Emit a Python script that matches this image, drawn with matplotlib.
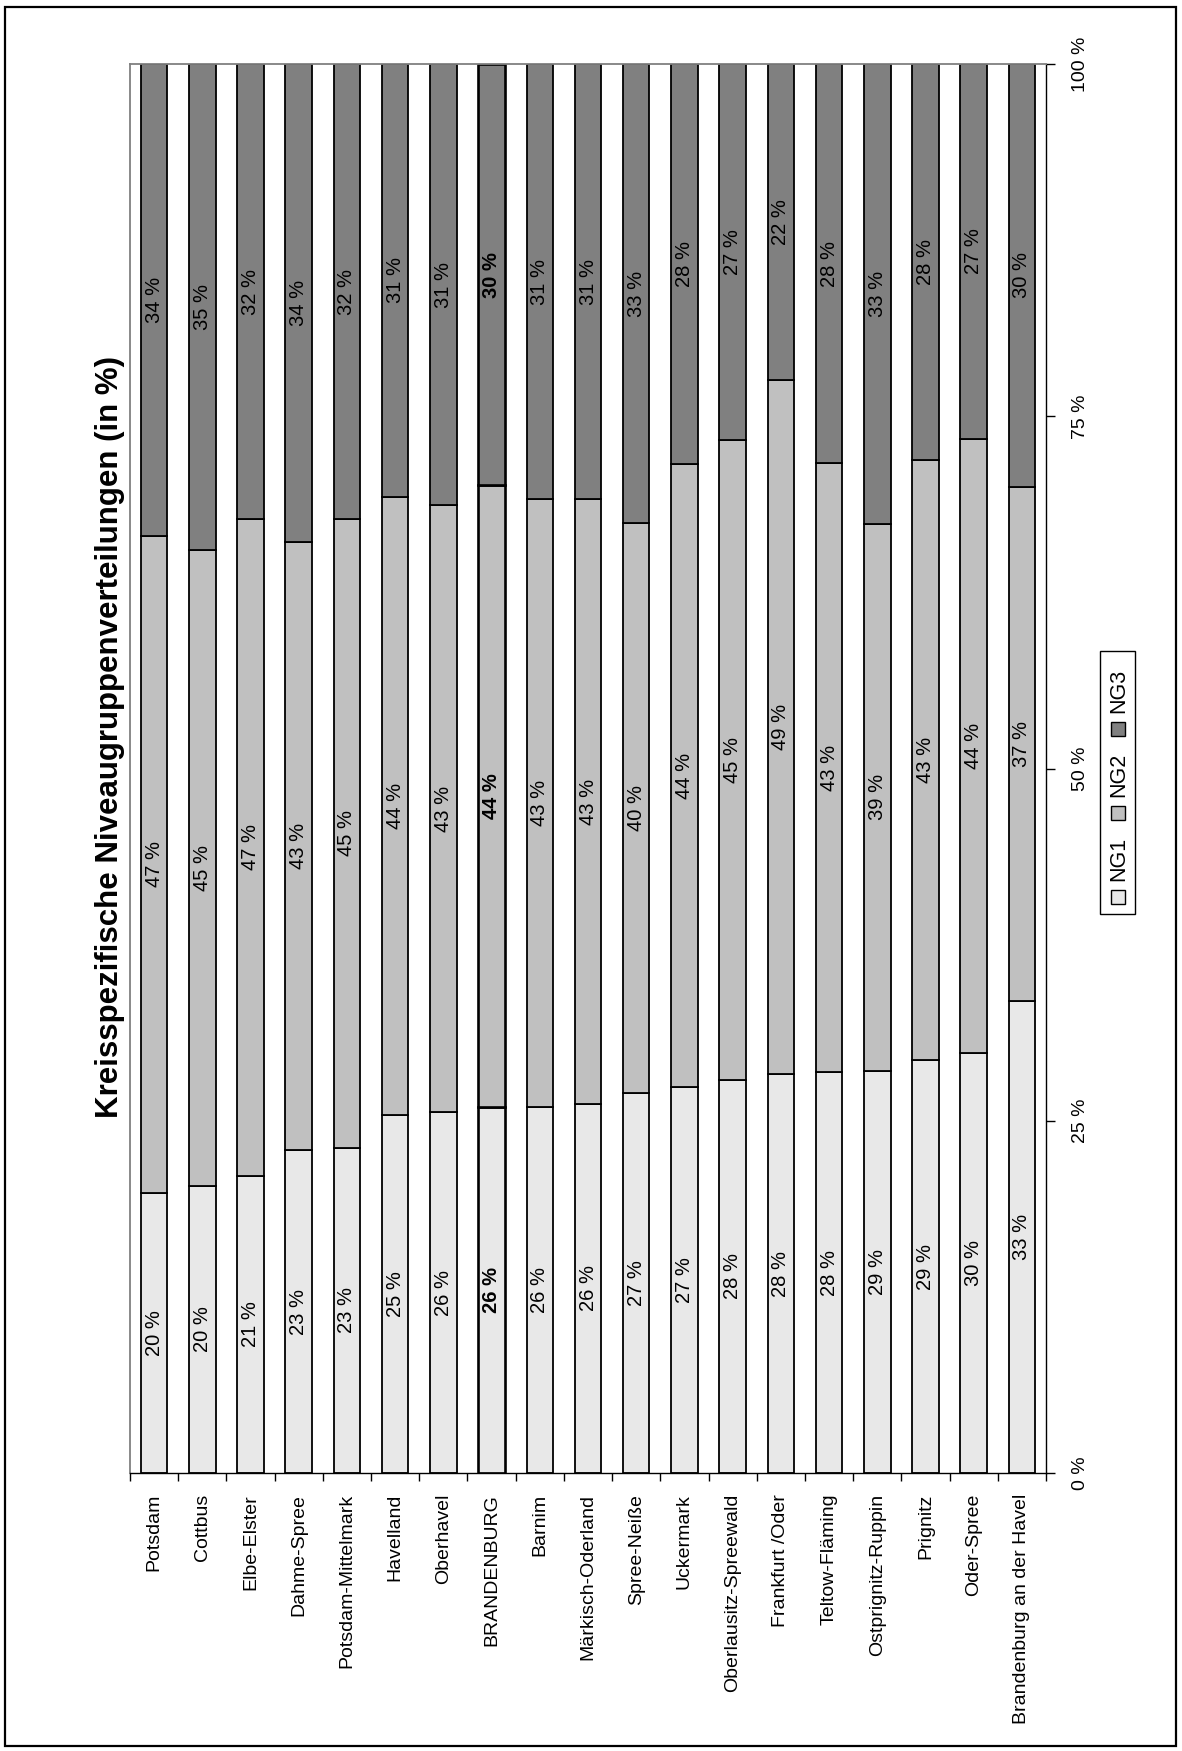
import matplotlib
matplotlib.use('Agg')
import matplotlib.pyplot as plt
from matplotlib.patches import Rectangle
import numpy as np

# ---------------- data ----------------
categories = ['Potsdam', 'Cottbus', 'Elbe-Elster', 'Dahme-Spree', 'Potsdam-Mittelmark',
              'Havelland', 'Oberhavel', 'BRANDENBURG', 'Barnim', 'Märkisch-Oderland',
              'Spree-Neiße', 'Uckermark', 'Oberlausitz-Spreewald', 'Frankfurt /Oder',
              'Teltow-Fläming', 'Ostprignitz-Ruppin', 'Prignitz', 'Oder-Spree',
              'Brandenburg an der Havel']
ng1 = [19.9, 20.4, 21.1, 22.9, 23.1, 25.4, 25.6, 26.0, 26.0, 26.2,
       27.0, 27.4, 27.9, 28.3, 28.45, 28.55, 29.3, 29.8, 33.5]
ng2 = [46.6, 45.1, 46.6, 43.2, 44.6, 43.9, 43.1, 44.1, 43.1, 42.9,
       40.4, 44.2, 45.4, 49.3, 43.2, 38.8, 42.6, 43.6, 36.5]
ng3 = [33.5, 34.5, 32.3, 33.9, 32.3, 30.7, 31.3, 29.9, 30.9, 30.9,
       32.6, 28.4, 26.7, 22.4, 28.35, 32.65, 28.1, 26.6, 30.0]
ng1_lbl = [20, 20, 21, 23, 23, 25, 26, 26, 26, 26, 27, 27, 28, 28, 28, 29, 29, 30, 33]
ng2_lbl = [47, 45, 47, 43, 45, 44, 43, 44, 43, 43, 40, 44, 45, 49, 43, 39, 43, 44, 37]
ng3_lbl = [34, 35, 32, 34, 32, 31, 31, 30, 31, 31, 33, 28, 27, 22, 28, 33, 28, 27, 30]
series_names = ['NG1', 'NG2', 'NG3']
yticks = [0, 25, 50, 75, 100]
ytick_labels = ['0 %', '25 %', '50 %', '75 %', '100 %']
title = 'Kreisspezifische Niveaugruppenverteilungen (in %)'
highlight = 'BRANDENBURG'

# ---------------- style ----------------
colors = ['#E8E8E8', '#C0C0C0', '#808080']
plt.rcParams['font.family'] = ['Liberation Sans', 'DejaVu Sans']

W, H = 1182, 1751
fig = plt.figure(figsize=(W / 100, H / 100), dpi=100)


def fx(px):
    return px / W


def fy(py):
    return 1 - py / H


L, R, T, B = 130, 1046, 64, 1473
ax = fig.add_axes([fx(L), fy(B), (R - L) / W, (B - T) / H])

vals = np.array([ng1, ng2, ng3], dtype=float)
shares = vals / vals.sum(axis=0) * 100
labels = [ng1_lbl, ng2_lbl, ng3_lbl]
x = np.arange(len(categories))
bottom = np.zeros(len(categories))
lws = [1.9 if c == highlight else 1.3 for c in categories]
for i, (name, col) in enumerate(zip(series_names, colors)):
    ax.bar(x, shares[i], 0.55, bottom=bottom, color=col,
           edgecolor='black', linewidth=lws, label=name, zorder=2)
    for j in range(len(categories)):
        ax.text(x[j], bottom[j] + shares[i][j] / 2, f'{labels[i][j]} %',
                rotation=90, ha='center', va='center', fontsize=14.5,
                fontweight='bold' if categories[j] == highlight else 'normal',
                zorder=3)
    bottom += shares[i]

ax.set_xlim(-0.5, len(categories) - 0.5)
ax.set_ylim(0, 100)

# value axis on the right
ax.yaxis.tick_right()
ax.set_yticks(yticks)
ax.set_yticklabels(ytick_labels, rotation=90, va='center')
ax.tick_params(axis='y', direction='out', length=6.5, width=1, pad=12, labelsize=14)

# category axis at bottom
ax.set_xticks(x)
ax.set_xticklabels(categories, rotation=90, fontsize=14)
ax.tick_params(axis='x', which='major', length=0, pad=15)
ax.set_xticks(np.arange(-0.5, len(categories) + 0.5, 1), minor=True)
ax.tick_params(axis='x', which='minor', direction='out', length=5.5, width=1)

for s in ['left', 'top']:
    ax.spines[s].set_color('#808080')
    ax.spines[s].set_linewidth(1.3)
for s in ['right', 'bottom']:
    ax.spines[s].set_color('black')
    ax.spines[s].set_linewidth(1.0)

# title
fig.text(fx(110), fy(737), title, rotation=90, ha='center', va='center',
         fontsize=22.5, fontweight='bold')

# legend (rotated, built by hand)
LX0, LX1, LY0, LY1 = 1100, 1135, 651, 914
fig.add_artist(Rectangle((fx(LX0), fy(LY1)), (LX1 - LX0) / W, (LY1 - LY0) / H,
                         transform=fig.transFigure, facecolor='white',
                         edgecolor='black', linewidth=1))
cx = (LX0 + LX1) / 2
for i, (name, col) in enumerate(zip(series_names, colors)):
    sq_y = 897 - 84 * i
    tx_y = 859 - 84 * i
    fig.add_artist(Rectangle((fx(cx - 7), fy(sq_y + 7)), 14 / W, 14 / H,
                             transform=fig.transFigure, facecolor=col,
                             edgecolor='black', linewidth=1))
    fig.text(fx(cx + 1), fy(tx_y), name, rotation=90, ha='center', va='center',
             fontsize=15.5)

# outer border
fig.add_artist(Rectangle((fx(5), fy(1746)), (1176 - 5) / W, (1746 - 7) / H,
                         transform=fig.transFigure, fill=False,
                         edgecolor='black', linewidth=1.6))

fig.savefig('out.png', dpi=100)
